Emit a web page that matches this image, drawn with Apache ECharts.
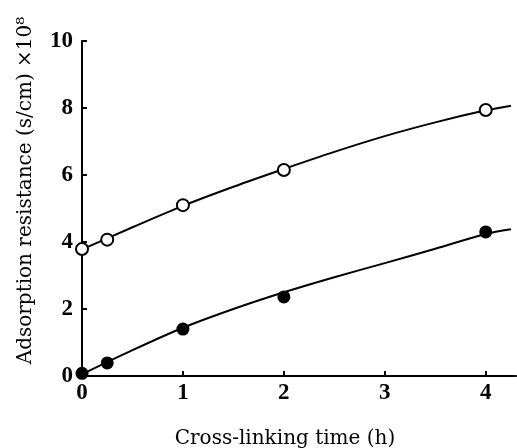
<!DOCTYPE html>
<html>
<head>
<meta charset="utf-8">
<script src="https://cdn.jsdelivr.net/npm/echarts@6/dist/echarts.min.js"></script>
<style>
  html, body { margin: 0; padding: 0; background: #fff; }
  #main { width: 517px; height: 448px; }
</style>
</head>
<body>
<div id="main"></div>
<script>
// measured points
var timeX = [0, 0.25, 1, 2, 4];
var openPts = [3.79, 4.07, 5.1, 6.15, 7.94];
var filledPts = [0.08, 0.39, 1.4, 2.36, 4.3];

// fitted curves
var curveX = [0, 0.5, 1, 1.5, 2, 2.5, 3, 3.5, 4, 4.25];
var openCurve = [3.78, 4.44, 5.08, 5.65, 6.18, 6.69, 7.16, 7.57, 7.93, 8.07];
var filledCurve = [0.05, 0.77, 1.44, 2.0, 2.5, 2.95, 3.37, 3.8, 4.24, 4.38];

var xTicks = [0, 1, 2, 3, 4];
var yTicks = [0, 2, 4, 6, 8, 10];

function pairs(xs, ys) {
    return xs.map(function (x, i) { return [x, ys[i]]; });
}

var myChart = echarts.init(document.getElementById('main'));
var tickFont = { fontFamily: 'Liberation Serif', fontSize: 23, fontWeight: 'bold', color: '#000' };
var nameFont = { fontFamily: 'DejaVu Serif', fontSize: 20, color: '#000' };

var option = {
    animation: false,
    grid: { left: 82, right: 1, top: 41, bottom: 72, outerBoundsMode: 'none' },
    xAxis: {
        type: 'value',
        min: 0,
        max: 4.3,
        interval: 1,
        name: 'Cross-linking time (h)',
        nameLocation: 'middle',
        nameGap: 53,
        nameTextStyle: Object.assign({ padding: [0, 28, 0, 0] }, nameFont),
        axisLine: { lineStyle: { color: '#000', width: 2 } },
        axisTick: { inside: true, length: 5, lineStyle: { color: '#000', width: 2 }, customValues: xTicks },
        axisLabel: Object.assign({ margin: 6, customValues: xTicks }, tickFont),
        splitLine: { show: false }
    },
    yAxis: {
        type: 'value',
        min: 0,
        max: 10,
        interval: 2,
        name: 'Adsorption resistance (s/cm) ×10⁸',
        nameLocation: 'middle',
        nameRotate: 90,
        nameGap: 46,
        nameTextStyle: Object.assign({ padding: [0, 0, 0, 36] }, nameFont),
        axisLine: { show: true, lineStyle: { color: '#000', width: 2 } },
        axisTick: { show: true, inside: true, length: 5, lineStyle: { color: '#000', width: 2 }, customValues: yTicks },
        axisLabel: Object.assign({ margin: 9, customValues: yTicks }, tickFont),
        splitLine: { show: false }
    },
    series: [
        {
            type: 'line',
            smooth: 0.3,
            showSymbol: false,
            data: pairs(curveX, openCurve),
            lineStyle: { color: '#000', width: 2 },
            z: 2
        },
        {
            type: 'line',
            smooth: 0.3,
            showSymbol: false,
            data: pairs(curveX, filledCurve),
            lineStyle: { color: '#000', width: 2 },
            z: 2
        },
        {
            type: 'scatter',
            data: pairs(timeX, openPts),
            symbol: 'circle',
            symbolSize: 12,
            itemStyle: { color: '#fff', borderColor: '#000', borderWidth: 2, opacity: 1 },
            z: 3
        },
        {
            type: 'scatter',
            data: pairs(timeX, filledPts),
            symbol: 'circle',
            symbolSize: 13,
            itemStyle: { color: '#000', opacity: 1 },
            z: 3
        }
    ]
};
myChart.setOption(option);
</script>
</body>
</html>
